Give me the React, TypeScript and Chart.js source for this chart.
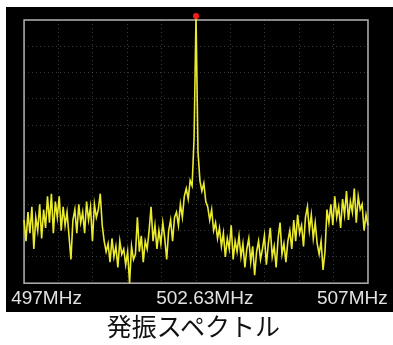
import React, { useEffect, useRef } from "react";
import { Chart, registerables } from "chart.js";

Chart.register(...registerables);

// Spectrum trace, in grid divisions (0 = bottom line, 10 = top line), one sample per step
const levels: number[] = [
  2.4, 1.6, 2.7, 1.9, 2.9, 1.3, 2.5, 2.0, 3.0, 1.7,
  2.8, 2.1, 3.3, 2.3, 3.4, 1.9, 3.1, 2.5, 3.3, 2.0,
  2.9, 2.2, 2.7, 1.8, 0.9, 2.4, 2.8, 1.9, 3.0, 2.3,
  2.7, 1.9, 3.1, 2.4, 2.9, 1.6, 3.0, 2.5, 2.8, 3.4,
  2.2, 1.6, 1.2,
  1.5, 0.8, 1.7, 1.0, 1.4, 0.6, 1.6, 1.1, 1.3, 0.7,
  1.2, 0.0, 1.4, 0.9, 1.1,
  2.5, 1.2, 1.8, 0.8, 1.6, 1.3, 2.0,
  2.9, 1.6, 2.2, 1.3, 2.0, 1.5, 2.3, 1.7,
  0.9, 2.0, 2.4, 1.6, 2.5,
  2.7, 2.2, 3.0, 2.5, 3.3,
  3.6, 3.2, 3.9, 3.7,
  5.5, 10.15, 5.0,
  3.9, 3.5, 3.8, 3.1,
  2.9, 2.4, 2.8, 2.0, 2.3, 1.7,
  2.1, 1.4, 1.9, 1.0, 1.7, 1.3, 2.2, 0.9, 1.6, 1.2, 1.8,
  1.0, 1.5, 0.6, 1.3, 1.7, 0.8, 1.4, 0.3, 1.2, 1.6, 0.9, 1.3,
  1.8, 0.7, 1.5, 2.1, 1.0, 1.4, 0.6, 1.7, 2.3, 1.1, 1.5, 0.8, 1.6,
  2.0, 1.3, 2.4, 1.6, 2.6, 1.9, 2.2, 1.4, 2.5, 2.9,
  2.0, 2.6, 1.7, 2.3, 1.5,
  1.1, 1.6, 0.5, 1.2,
  2.8, 2.3,
  3.0, 2.2, 3.3, 2.5, 2.9, 2.1, 3.2, 2.6, 3.5, 2.4,
  3.1, 2.7, 3.6, 2.3, 3.3, 2.8, 3.0, 2.0, 2.6, 2.2,
];

const tickLabels: string[] = ["497MHz", "502.63MHz", "507MHz"];
const titleText = "発振スペクトル";
const gridDivisions = 10;

// where each frequency label is centred, in sample-index units
const labelAnchors = [11.5, 92.5, 168];

export default function App() {
  const ref = useRef<HTMLCanvasElement>(null);

  useEffect(() => {
    if (!ref.current) return;
    const peakIdx = levels.indexOf(Math.max(...levels));

    const framePlugin = {
      id: "frame",
      beforeDatasetsDraw(chart: any) {
        const { ctx, chartArea: a } = chart;
        ctx.save();
        ctx.strokeStyle = "#b2b2b2";
        ctx.lineWidth = 1.5;
        ctx.strokeRect(a.left, a.top, a.right - a.left, a.bottom - a.top);
        ctx.restore();
      },
    };

    const gridColor = "rgba(140,140,140,0.4)";

    const chart = new Chart(ref.current, {
      type: "line",
      data: {
        datasets: [
          {
            data: levels.map((v, i) => ({ x: i, y: v })),
            borderColor: "rgb(235,235,45)",
            borderWidth: 1.6,
            tension: 0,
            clip: false as any,
            pointRadius: (c: any) => (c.dataIndex === peakIdx ? 3 : 0),
            pointBackgroundColor: "#ff1a1a",
            pointBorderWidth: 0,
          },
        ],
      },
      options: {
        animation: false,
        responsive: false,
        events: [],
        layout: { padding: { left: 15, right: 20, top: 13, bottom: -3 } },
        plugins: { legend: { display: false }, tooltip: { enabled: false } },
        scales: {
          x: {
            type: "linear",
            min: 0,
            max: levels.length - 1,
            grid: { display: false, drawTicks: false },
            border: { display: false },
            afterBuildTicks: (s: any) => {
              s.ticks = labelAnchors.map((v) => ({ value: v }));
            },
            ticks: {
              autoSkip: false,
              maxRotation: 0,
              padding: 4.5,
              color: "#e2e2e2",
              font: { family: '"Liberation Sans", Arial, sans-serif', size: 19 },
              callback: (_v: any, i: number) => tickLabels[i],
            },
          },
          xg: {
            type: "linear",
            position: "bottom",
            min: 0,
            max: gridDivisions,
            ticks: { display: false, stepSize: 1 },
            grid: { color: gridColor, drawTicks: false, lineWidth: 1 },
            border: { display: false, dash: [1, 3] },
          },
          y: {
            min: 0,
            max: gridDivisions,
            ticks: { display: false, stepSize: 1 },
            grid: { color: gridColor, drawTicks: false, lineWidth: 1 },
            border: { display: false, dash: [1, 3] },
          },
        },
      },
      plugins: [framePlugin],
    } as any);

    return () => chart.destroy();
  }, []);

  return (
    <>
      <div
        style={{
          position: "absolute",
          left: 6,
          top: 7,
          width: 387,
          height: 305,
          background: "#000",
        }}
      >
        <canvas ref={ref} width={387} height={305} style={{ display: "block" }} />
      </div>
      <div
        style={{
          position: "absolute",
          left: 0,
          top: 309,
          width: 387,
          height: 33,
          lineHeight: "33px",
          textAlign: "center",
          fontFamily: '"Noto Sans CJK JP", sans-serif',
          fontSize: 25,
          color: "#111",
        }}
      >
        {titleText}
      </div>
    </>
  );
}
